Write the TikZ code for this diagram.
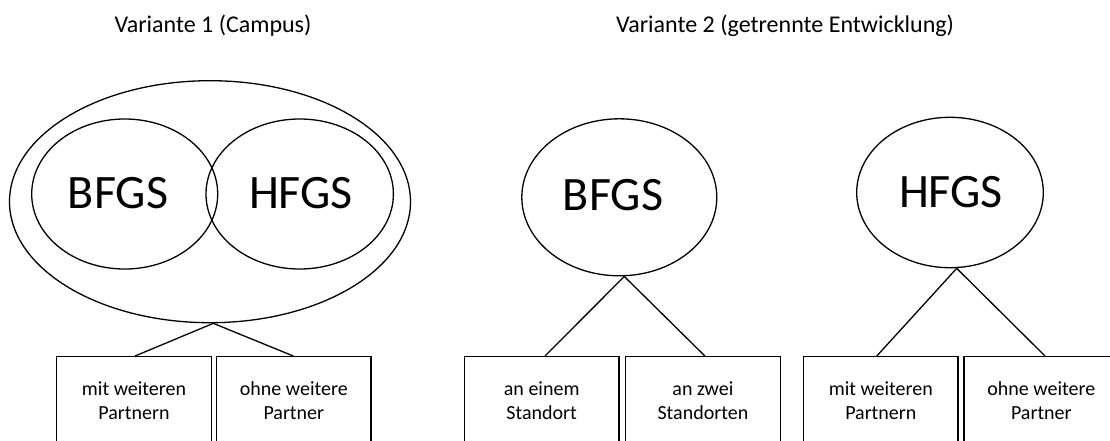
\documentclass[tikz,border=0pt]{standalone}
\usepackage{fontspec}
\setmainfont{Carlito}
\usetikzlibrary{shapes.geometric}
\begin{document}
\begin{tikzpicture}[x=1pt,y=-1pt,
  ell/.style={draw, ellipse, line width=1.3pt, inner sep=0pt},
  box/.style={draw, rectangle, line width=1.3pt, minimum width=154.5pt, minimum height=92.4pt, inner sep=0pt, align=center, font=\fontsize{20}{24}\selectfont, anchor=north},
  big/.style={font=\fontsize{48}{56}\selectfont, anchor=base, inner sep=0pt},
  title/.style={font=\fontsize{24}{28}\selectfont, anchor=base, inner sep=0pt},
  conn/.style={line width=1.3pt}]
\path[use as bounding box, clip] (0,0) rectangle (1110,440);
% titles
\node[title] (h1) at (213,32) {Variante 1 (Campus)};
\node[title] (h2) at (785,32) {Variante 2 (getrennte Entwicklung)};
% ellipses
\node[ell, minimum width=401pt, minimum height=242pt] (v1) at (210,201.7) {};
\node[ell, minimum width=186pt, minimum height=150pt] (v1b) at (124.7,194) {};
\node[ell, minimum width=187.4pt, minimum height=150pt] (v1h) at (299.7,194) {};
\node[ell, minimum width=195pt, minimum height=157pt] (v2b) at (619.3,197.3) {};
\node[ell, minimum width=186.6pt, minimum height=150.4pt] (v2h) at (950,192.5) {};
% big labels
\node[big] (t1b) at (118,208.5) {BFGS};
\node[big] (t1h) at (301,208.5) {HFGS};
\node[big] (t2b) at (613,210) {BFGS};
\node[big] (t2h) at (951,207.3) {HFGS};
% boxes (they run on below the lower edge)
\node[box] (bA) at (134,356) {mit weiteren\strut\\Partnern\strut};
\node[box] (bB) at (293.8,356) {ohne weitere\strut\\Partner\strut};
\node[box] (bC) at (541.7,356) {an einem\strut\\Standort\strut};
\node[box] (bD) at (702.9,356) {an zwei\strut\\Standorten\strut};
\node[box] (bE) at (880.8,356) {mit weiteren\strut\\Partnern\strut};
\node[box] (bF) at (1041.3,356) {ohne weitere\strut\\Partner\strut};
% connectors
\draw[conn] ([xshift=3.3pt]v1.south) -- ([xshift=1pt]bA.north);
\draw[conn] ([xshift=3.3pt]v1.south) -- ([xshift=-0.5pt]bB.north);
\draw[conn] ([xshift=5pt]v2b.south) -- ([xshift=3.3pt]bC.north);
\draw[conn] ([xshift=5pt]v2b.south) -- ([xshift=2pt]bD.north);
\draw[conn] ([xshift=6.7pt]v2h.south) -- ([xshift=-4pt]bE.north);
\draw[conn] ([xshift=6.7pt]v2h.south) -- ([xshift=3.7pt]bF.north);
\end{tikzpicture}
\end{document}
